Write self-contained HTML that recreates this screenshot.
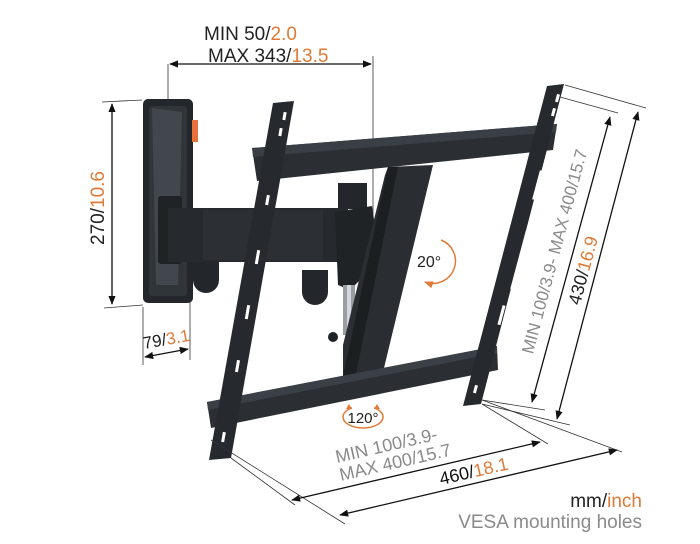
<!DOCTYPE html>
<html><head><style>
html,body{margin:0;padding:0;background:#fff;}
svg{display:block;font-family:"Liberation Sans",sans-serif;}
</style></head><body>
<svg width="700" height="544" viewBox="0 0 700 544" xmlns="http://www.w3.org/2000/svg">
<defs>
<marker id="a" viewBox="0 0 10 10" refX="9" refY="5" markerWidth="7" markerHeight="7" orient="auto-start-reverse"><path d="M0,1 L10,5 L0,9 z" fill="#111"/></marker>
<marker id="o" viewBox="0 0 10 10" refX="9" refY="5" markerWidth="6" markerHeight="6" orient="auto-start-reverse"><path d="M0,1 L10,5 L0,9 z" fill="#e07a38"/></marker>
</defs>
<rect width="700" height="544" fill="#fff"/>

<text x="204" y="40" font-size="19" fill="#222">MIN 50/<tspan fill="#e07a38">2.0</tspan></text>
<text x="208" y="62" font-size="19" fill="#222">MAX 343/<tspan fill="#e07a38">13.5</tspan></text>
<line x1="168" y1="64" x2="168" y2="100" stroke="#333" stroke-width="0.8"/>
<line x1="373" y1="56" x2="373" y2="232" stroke="#333" stroke-width="0.8"/>
<line x1="170" y1="64" x2="371" y2="64" stroke="#111" stroke-width="1.3" marker-start="url(#a)" marker-end="url(#a)"/>

<line x1="102" y1="102" x2="142" y2="100" stroke="#333" stroke-width="0.8"/>
<line x1="104" y1="308" x2="143" y2="305" stroke="#333" stroke-width="0.8"/>
<line x1="112" y1="104" x2="112" y2="304" stroke="#111" stroke-width="1.3" marker-start="url(#a)" marker-end="url(#a)"/>
<text transform="translate(104,208) rotate(-90)" text-anchor="middle" font-size="19" fill="#222">270/<tspan fill="#e07a38">10.6</tspan></text>

<line x1="143" y1="307" x2="143" y2="365" stroke="#333" stroke-width="0.8"/>
<line x1="190" y1="302" x2="190" y2="360" stroke="#333" stroke-width="0.8"/>
<line x1="145" y1="357" x2="188" y2="349" stroke="#111" stroke-width="1.3" marker-start="url(#a)" marker-end="url(#a)"/>
<text transform="translate(144,349) rotate(-10)" font-size="17" fill="#222">79/<tspan fill="#e07a38">3.1</tspan></text>

<rect x="143" y="99" width="50" height="204" rx="5" fill="#23272b"/>
<rect x="149" y="106" width="38" height="190" rx="3" fill="#30353a"/>
<path d="M152,108 L182,112 L178,285 L156,285 z" fill="#42474d"/>
<rect x="192" y="120" width="6" height="22" fill="#e8703a"/>
<rect x="158" y="196" width="24" height="68" rx="3" fill="#1f2326"/>
<rect x="168" y="208" width="180" height="54" fill="#262a2e"/>
<rect x="203" y="210" width="120" height="50" fill="#2c3035"/>
<path d="M193,262 h26 v18 a9,9 0 0 1 -26,0 z" fill="#23272b"/>
<path d="M302,270 h26 v22 a9,9 0 0 1 -26,0 z" fill="#23272b"/>
<rect x="338" y="183" width="29" height="26" fill="#23272b"/>
<path d="M335,212 L372,206 L380,260 L350,290 L338,285 z" fill="#1f2326"/>
<rect x="343" y="285" width="12" height="50" fill="#9a9ea2"/>
<rect x="347" y="285" width="4" height="50" fill="#d5d8da"/>
<circle cx="333" cy="337" r="5" fill="#1f2326"/>

<path d="M388,167 L433,165 L384,368 L343,376 L343,345 L385,175 z" fill="#2a2e33"/>
<path d="M388,167 L398,167 L356,374 L343,376 z" fill="#1c1f22"/>

<path d="M252,148 L557,124 L553,150 L257,181 z" fill="#2b2f34"/>
<path d="M252,148 L557,124 L556,132 L253,157 z" fill="#3a3f45"/>
<path d="M207,402 L497,346 L498,370 L211,428 z" fill="#2b2f34"/>
<path d="M207,402 L497,346 L497,353 L208,410 z" fill="#3b4046"/>

<path d="M273,103 L294,101 L231,458 L209,460 z" fill="#262a2e"/>
<g fill="#fff">
<rect x="283" y="112" width="3" height="8" transform="rotate(10 284 116)"/>
<rect x="279" y="128" width="3" height="8" transform="rotate(10 280 132)"/>
<rect x="266" y="195" width="3" height="10" transform="rotate(10 267 200)"/>
<rect x="256" y="250" width="3" height="14" transform="rotate(10 257 257)"/>
<rect x="246" y="305" width="3" height="14" transform="rotate(10 247 312)"/>
<rect x="236" y="360" width="3" height="12" transform="rotate(10 237 366)"/>
<rect x="222" y="432" width="3" height="10" transform="rotate(10 223 437)"/>
</g>
<path d="M547,86 L564,84 L481,404 L463,406 z" fill="#262a2e"/>
<g fill="#fff">
<rect x="556" y="94" width="3" height="8" transform="rotate(15 557 98)"/>
<rect x="552" y="108" width="3" height="8" transform="rotate(15 553 112)"/>
<rect x="536" y="170" width="3" height="30" transform="rotate(15 537 185)"/>
<rect x="518" y="230" width="3" height="60" transform="rotate(15 519 260)"/>
<rect x="500" y="305" width="3" height="20" transform="rotate(15 501 315)"/>
<rect x="474" y="385" width="3" height="8" transform="rotate(15 475 389)"/>
</g>

<text x="417" y="267" font-size="16" fill="#222">20°</text>
<path d="M441,240 A22,22 0 0 1 425,282" fill="none" stroke="#e07a38" stroke-width="1.5" marker-end="url(#o)"/>
<ellipse cx="363" cy="417" rx="20" ry="11" fill="none" stroke="#e07a38" stroke-width="1.5"/>
<rect x="352" y="404" width="22" height="8" fill="#fff"/>
<path d="M346,409 l3,-5 l3,5 z M374,409 l3,-5 l3,5 z" fill="#e07a38"/>
<text x="363" y="423" text-anchor="middle" font-size="15" fill="#222">120°</text>

<line x1="565" y1="85" x2="646" y2="108" stroke="#333" stroke-width="0.8"/>
<line x1="560" y1="97" x2="618" y2="113" stroke="#333" stroke-width="0.8"/>
<line x1="482" y1="400" x2="545" y2="410" stroke="#333" stroke-width="0.8"/>
<line x1="482" y1="404" x2="570" y2="425" stroke="#333" stroke-width="0.8"/>
<line x1="610" y1="117" x2="532" y2="402" stroke="#111" stroke-width="1.3" marker-start="url(#a)" marker-end="url(#a)"/>
<line x1="638" y1="112" x2="557" y2="419" stroke="#111" stroke-width="1.3" marker-start="url(#a)" marker-end="url(#a)"/>
<text transform="translate(560,253) rotate(-75)" text-anchor="middle" font-size="17" fill="#8a8a8a">MIN 100/3.9- MAX 400/15.7</text>
<text transform="translate(589,272) rotate(-75)" text-anchor="middle" font-size="18" fill="#222">430/<tspan fill="#e07a38">16.9</tspan></text>

<line x1="482" y1="404" x2="548" y2="444" stroke="#333" stroke-width="0.8"/>
<line x1="482" y1="400" x2="622" y2="452" stroke="#333" stroke-width="0.8"/>
<line x1="231" y1="458" x2="295" y2="505" stroke="#333" stroke-width="0.8"/>
<line x1="211" y1="440" x2="345" y2="524" stroke="#333" stroke-width="0.8"/>
<line x1="292" y1="500" x2="540" y2="442" stroke="#111" stroke-width="1.3" marker-start="url(#a)" marker-end="url(#a)"/>
<line x1="340" y1="515" x2="617" y2="450" stroke="#111" stroke-width="1.3" marker-start="url(#a)" marker-end="url(#a)"/>
<text transform="translate(337,463) rotate(-13)" font-size="18" fill="#8a8a8a">MIN 100/3.9-</text>
<text transform="translate(341,481) rotate(-13)" font-size="18" fill="#8a8a8a">MAX 400/15.7</text>
<text transform="translate(441,485) rotate(-13)" font-size="18" fill="#111">460/<tspan fill="#e07a38">18.1</tspan></text>

<text x="642" y="507" text-anchor="end" font-size="19" fill="#222">mm/<tspan fill="#e07a38">inch</tspan></text>
<text x="642" y="528" text-anchor="end" font-size="19" fill="#8a8a8a">VESA mounting holes</text>
</svg>
</body></html>
